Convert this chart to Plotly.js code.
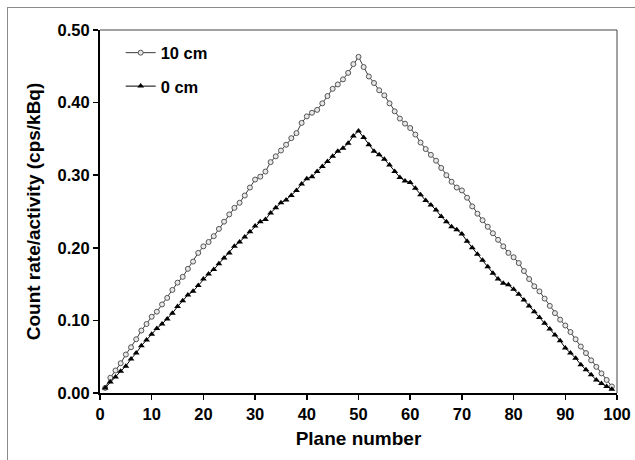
<!DOCTYPE html>
<html>
<head>
<meta charset="utf-8">
<script src="https://cdn.plot.ly/plotly-3.0.1.min.js"></script>
<style>
  html, body { margin: 0; padding: 0; background: #fff; }
  #wrap { position: relative; width: 635px; height: 460px; }
  #chart { width: 635px; height: 460px; }
  #frame { position: absolute; left: 7px; top: 7px; width: 628px; height: 453px;
           border-left: 1px solid #8a8a8a; border-top: 1px solid #8a8a8a;
           box-sizing: border-box; pointer-events: none; }
</style>
</head>
<body>
<div id="wrap">
  <div id="chart"></div>
  <div id="frame"></div>
</div>
<script>
// Plane numbers 1..99
const planes = [
  1,2,3,4,5,6,7,8,9,10,11,12,13,14,15,16,17,18,19,20,
  21,22,23,24,25,26,27,28,29,30,31,32,33,34,35,36,37,38,39,40,
  41,42,43,44,45,46,47,48,49,50,51,52,53,54,55,56,57,58,59,60,
  61,62,63,64,65,66,67,68,69,70,71,72,73,74,75,76,77,78,79,80,
  81,82,83,84,85,86,87,88,89,90,91,92,93,94,95,96,97,98,99
];

// "10 cm" series (open circles)
const tenCm = [
  0.007,0.021,0.031,0.041,0.053,0.063,0.074,0.086,0.095,0.105,
  0.112,0.122,0.131,0.142,0.152,0.160,0.171,0.181,0.193,0.202,
  0.208,0.216,0.226,0.236,0.246,0.255,0.262,0.272,0.283,0.294,
  0.298,0.305,0.318,0.326,0.334,0.342,0.351,0.358,0.372,0.381,
  0.386,0.390,0.399,0.409,0.419,0.425,0.432,0.441,0.453,0.463,
  0.449,0.436,0.427,0.417,0.410,0.399,0.388,0.378,0.371,0.365,
  0.356,0.345,0.336,0.328,0.320,0.310,0.300,0.291,0.283,0.279,
  0.269,0.257,0.247,0.238,0.229,0.220,0.211,0.202,0.193,0.187,
  0.179,0.168,0.157,0.147,0.140,0.130,0.120,0.110,0.101,0.093,
  0.084,0.074,0.064,0.055,0.045,0.036,0.027,0.018,0.009
];

// "0 cm" series (filled triangles)
const zeroCm = [
  0.007,0.015,0.022,0.030,0.037,0.047,0.055,0.065,0.073,0.081,
  0.089,0.095,0.102,0.110,0.119,0.127,0.135,0.140,0.148,0.157,
  0.164,0.170,0.178,0.186,0.193,0.202,0.208,0.215,0.222,0.230,
  0.236,0.239,0.248,0.255,0.262,0.266,0.272,0.279,0.288,0.295,
  0.298,0.305,0.312,0.319,0.326,0.333,0.337,0.344,0.354,0.361,
  0.352,0.342,0.333,0.328,0.322,0.314,0.305,0.297,0.292,0.290,
  0.282,0.273,0.265,0.259,0.252,0.243,0.236,0.229,0.225,0.219,
  0.209,0.200,0.191,0.183,0.174,0.165,0.157,0.151,0.149,0.143,
  0.136,0.128,0.120,0.112,0.104,0.096,0.088,0.080,0.072,0.062,
  0.055,0.048,0.039,0.032,0.025,0.018,0.013,0.009,0.005
];

const xTicks = [0,10,20,30,40,50,60,70,80,90,100];
const yTicks = [0.0,0.1,0.2,0.3,0.4,0.5];
const seriesNames = ["10 cm", "0 cm"];
const xTitle = "Plane number";
const yTitle = "Count rate/activity (cps/kBq)";

const FONT = "Liberation Sans, Arial, sans-serif";

const traces = [
  {
    x: planes, y: tenCm, name: seriesNames[0], legendgroup: "a",
    type: "scatter", mode: "lines+markers",
    line: { color: "#3a3a3a", width: 1 },
    marker: { symbol: "circle", size: 5, color: "#e8e8e8",
              line: { color: "#555555", width: 1 } }
  },
  {
    x: planes, y: zeroCm, name: seriesNames[1], legendgroup: "b",
    type: "scatter", mode: "lines+markers",
    line: { color: "#000000", width: 1 },
    marker: { symbol: "triangle-up", size: 6, color: "#000000" }
  }
];

const layout = {
  width: 635, height: 460,
  margin: { l: 100, r: 18, t: 30, b: 67, pad: 0 },
  paper_bgcolor: "#ffffff", plot_bgcolor: "#ffffff",
  font: { family: FONT, color: "#000000" },
  showlegend: true,
  legend: {
    x: 0.04, y: 0.985, xanchor: "left", yanchor: "top",
    bgcolor: "rgba(0,0,0,0)", borderwidth: 0,
    font: { family: FONT, size: 16.5, weight: "bold", color: "#000" },
    tracegroupgap: 9, itemwidth: 30,
    traceorder: "grouped"
  },
  xaxis: {
    range: [0, 100], tickvals: xTicks, ticktext: xTicks.map(String),
    showgrid: false, zeroline: false,
    showline: true, linecolor: "#000", linewidth: 2,
    ticks: "outside", ticklen: 5, tickwidth: 1.5, tickcolor: "#000",
    tickfont: { family: FONT, size: 16.5, weight: "bold", color: "#000" },
    title: { text: xTitle, standoff: 10,
             font: { family: FONT, size: 19, weight: "bold", color: "#000" } }
  },
  yaxis: {
    range: [0, 0.5], tickvals: yTicks, ticktext: yTicks.map(v => v.toFixed(2)),
    showgrid: false, zeroline: false,
    showline: true, linecolor: "#000", linewidth: 2,
    ticks: "outside", ticklen: 5, tickwidth: 1.5, tickcolor: "#000",
    tickfont: { family: FONT, size: 16.5, weight: "bold", color: "#000" },
    title: { text: yTitle, standoff: 12,
             font: { family: FONT, size: 19, weight: "bold", color: "#000" } }
  },
  shapes: [
    { type: "line", xref: "paper", yref: "paper", x0: 0, x1: 1, y0: 1, y1: 1,
      line: { color: "#444", width: 1 } },
    { type: "line", xref: "paper", yref: "paper", x0: 1, x1: 1, y0: 0, y1: 1,
      line: { color: "#444", width: 1 } }
  ]
};

Plotly.newPlot("chart", traces, layout, { displayModeBar: false, staticPlot: true });
</script>
</body>
</html>
